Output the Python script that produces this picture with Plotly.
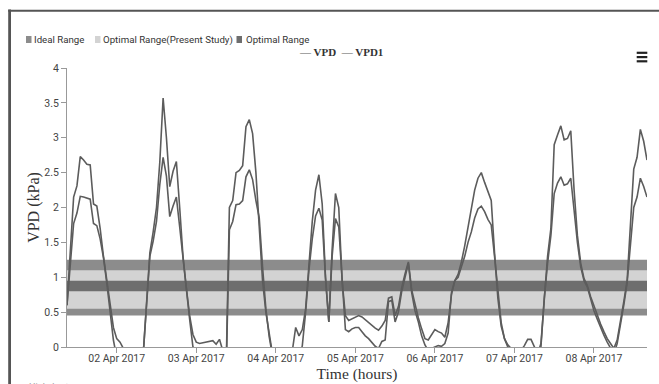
import pandas as pd
import plotly.graph_objects as go

# Hourly vapour pressure deficit readings (kPa), starting 01 Apr 2017 09:00
start_time = "2017-04-01 09:00"
vpd = [
    0.60, 1.35, 2.15, 2.31, 2.73, 2.68, 2.62, 2.61, 2.05, 2.02,
    1.70, 1.30, 0.95, 0.60, 0.28, 0.12, 0.07, -0.02, -0.40, -0.40,
    -0.40, -0.40, -0.40, -0.10, 0.60, 1.35, 1.65, 2.00, 2.65, 3.57,
    3.00, 2.30, 2.52, 2.66, 2.00, 1.30, 0.85, 0.45, 0.18, 0.07,
    0.05, 0.06, 0.06, 0.07, 0.09, 0.04, 0.11, -0.05, -0.35, 2.00,
    2.10, 2.50, 2.53, 2.60, 3.16, 3.26, 3.06, 2.50, 1.70, 0.95,
    0.50, 0.15, -0.20, -0.40, -0.40, -0.40, -0.40, -0.40, -0.05, 0.28,
    0.16, 0.25, 0.55, 1.20, 1.80, 2.25, 2.47, 2.05, 1.00, 0.36,
    1.40, 2.20, 2.00, 0.95, 0.45, 0.38, 0.40, 0.42, 0.45, 0.43,
    0.39, 0.34, 0.30, 0.27, 0.24, 0.30, 0.38, 0.70, 0.72, 0.45,
    0.58, 0.85, 1.05, 1.22, 0.82, 0.60, 0.42, 0.26, 0.12, 0.10,
    0.18, 0.25, 0.22, 0.20, 0.14, 0.35, 0.75, 0.95, 1.04, 1.22,
    1.45, 1.70, 2.00, 2.25, 2.42, 2.50, 2.36, 2.22, 2.10, 1.35,
    0.70, 0.30, 0.12, 0.00, -0.05, -0.10, -0.10, -0.05, 0.02, 0.11,
    0.11, 0.00, -0.10, 0.05, 0.75, 1.30, 1.70, 2.90, 3.04, 3.17,
    2.97, 2.99, 3.10, 2.25, 1.60, 1.20, 0.98, 0.88, 0.72, 0.58,
    0.45, 0.33, 0.22, 0.12, 0.05, -0.02, 0.10, 0.35, 0.65, 0.95,
    1.70, 2.55, 2.72, 3.12, 2.95, 2.68,
]
vpd1 = [
    0.60, 1.20, 1.77, 1.92, 2.16, 2.15, 2.13, 2.12, 1.77, 1.74,
    1.55, 1.28, 0.92, 0.55, 0.10, -0.15, -0.30, -0.40, -0.40, -0.40,
    -0.40, -0.40, -0.40, -0.10, 0.60, 1.30, 1.52, 1.80, 2.33, 2.72,
    2.45, 1.87, 2.02, 2.15, 1.72, 1.25, 0.82, 0.40, 0.00, -0.30,
    -0.40, -0.40, -0.40, -0.40, -0.40, -0.40, -0.40, -0.40, -0.40, 1.68,
    1.80, 2.04, 2.05, 2.10, 2.44, 2.54, 2.40, 2.10, 1.85, 1.15,
    0.55, 0.15, -0.20, -0.40, -0.40, -0.40, -0.40, -0.40, -0.30, -0.30,
    -0.20, 0.02, 0.50, 1.10, 1.55, 1.88, 1.99, 1.82, 0.98, 0.36,
    1.30, 1.84, 1.72, 0.95, 0.25, 0.22, 0.26, 0.28, 0.28, 0.22,
    0.16, 0.12, 0.06, 0.01, -0.02, 0.08, 0.10, 0.65, 0.67, 0.36,
    0.50, 0.80, 1.00, 1.20, 0.78, 0.52, 0.36, 0.16, 0.03, -0.05,
    -0.02, 0.00, 0.02, 0.01, 0.05, 0.20, 0.78, 0.95, 1.00, 1.15,
    1.30, 1.50, 1.65, 1.85, 1.98, 2.02, 1.94, 1.83, 1.75, 1.30,
    0.80, 0.35, 0.12, 0.03, -0.02, -0.10, -0.10, -0.10, -0.05, -0.10,
    -0.10, -0.10, -0.10, 0.00, 0.70, 1.20, 1.60, 2.20, 2.35, 2.44,
    2.32, 2.34, 2.42, 1.96, 1.50, 1.15, 0.95, 0.86, 0.68, 0.52,
    0.40, 0.28, 0.17, 0.07, -0.02, -0.10, 0.05, 0.30, 0.60, 0.92,
    1.45, 2.00, 2.15, 2.42, 2.30, 2.15,
]

# Reference ranges (kPa): lower, upper
ideal_range = [0.45, 1.25]
optimal_range_present_study = [0.55, 1.10]
optimal_range = [0.80, 0.95]

band_names = ["Ideal Range", "Optimal Range(Present Study)", "Optimal Range"]
band_limits = [ideal_range, optimal_range_present_study, optimal_range]
band_colors = ["#8c8c8c", "#d3d3d3", "#6e6e6e"]

line_color = "#5c5c5c"

times = pd.date_range(start_time, periods=len(vpd), freq="h")

# page geometry (pixels)
W, H = 659, 384
ML, MR, MT, MB = 67, 12, 68, 37
PW, PH = W - ML - MR, H - MT - MB


def px_x(px):
    return (px - ML) / PW


def px_y(py):
    return (H - MB - py) / PH


fig = go.Figure()

# horizontal range bands across the whole period
for name, (lo, hi), col in zip(band_names, band_limits, band_colors):
    fig.add_trace(go.Scatter(
        x=[times[0], times[-1], times[-1], times[0], times[0]],
        y=[lo, lo, hi, hi, lo],
        fill="toself", fillcolor=col, mode="none",
        name=name, hoverinfo="skip", showlegend=False,
    ))

for name, series in (("VPD", vpd), ("VPD1", vpd1)):
    fig.add_trace(go.Scatter(
        x=times, y=series, mode="lines", name=name,
        line=dict(color=line_color, width=1.6),
        showlegend=False,
    ))

shapes = []
annotations = []

# outer frame (left and top edges)
shapes.append(dict(type="line", xref="paper", yref="paper",
                   x0=px_x(9.6), x1=px_x(9.6), y0=px_y(9.5), y1=px_y(400),
                   line=dict(color="#555555", width=2.8)))
shapes.append(dict(type="line", xref="paper", yref="paper",
                   x0=px_x(8.2), x1=px_x(670), y0=px_y(10.8), y1=px_y(10.8),
                   line=dict(color="#555555", width=2)))

# range legend: swatches and labels
band_legend_x = [(26, 32), (95, 101), (236.5, 244)]
for (sx, tx), name, col in zip(band_legend_x, band_names, band_colors):
    shapes.append(dict(type="rect", xref="paper", yref="paper",
                       x0=px_x(sx), x1=px_x(sx + 5.5), y0=px_y(43), y1=px_y(36),
                       fillcolor=col, line=dict(width=0)))
    annotations.append(dict(xref="paper", yref="paper", x=px_x(tx), y=px_y(39.5),
                            xanchor="left", yanchor="middle", showarrow=False,
                            text=name,
                            font=dict(family="Roboto", size=9.7, color="#333333")))

# series legend
dash = f"<span style='color:{line_color}'>—</span>"
annotations.append(dict(xref="paper", yref="paper", x=px_x(297), y=px_y(51.5),
                        xanchor="left", yanchor="middle", showarrow=False,
                        text=f"{dash} VPD  {dash} VPD1",
                        font=dict(family="Liberation Serif", size=11, color="#333333",
                                  weight="bold")))

# export menu icon
for yy in (52.8, 57.1, 61.3):
    shapes.append(dict(type="line", xref="paper", yref="paper",
                       x0=px_x(636.7), x1=px_x(647.3), y0=px_y(yy), y1=px_y(yy),
                       line=dict(color="#222222", width=2.2)))

# credits line along the bottom edge
annotations.append(dict(xref="paper", yref="paper", x=px_x(27), y=px_y(379.5),
                        xanchor="left", yanchor="top", showarrow=False,
                        text="Highcharts.com",
                        font=dict(family="Roboto", size=9, color="#999999")))

fig.update_layout(
    width=W, height=H,
    margin=dict(l=ML, r=MR, t=MT, b=MB, autoexpand=False),
    paper_bgcolor="white", plot_bgcolor="white",
    showlegend=False,
    shapes=shapes, annotations=annotations,
    xaxis=dict(
        type="date", range=[times[0], times[-1]], automargin=False,
        tick0="2017-04-02", dtick=86400000, tickformat="%d %b %Y",
        ticks="outside", ticklen=5, tickcolor="#999999",
        ticklabelstandoff=-4,
        showline=True, linecolor="#999999", linewidth=1,
        showgrid=False, zeroline=False,
        tickfont=dict(family="Roboto", size=10.5, color="#444444"),
        title=dict(text="Time (hours)", standoff=2,
                   font=dict(family="Liberation Serif", size=15.5, color="#333333")),
    ),
    yaxis=dict(
        range=[0, 4], dtick=0.5, automargin=False,
        ticks="outside", ticklen=5, tickcolor="#999999",
        showline=True, linecolor="#999999", linewidth=1,
        showgrid=False, zeroline=False,
        tickfont=dict(family="Roboto", size=10.5, color="#444444"),
        title=dict(text="VPD (kPa)", standoff=0,
                   font=dict(family="Liberation Serif", size=16, color="#333333")),
    ),
)

fig.write_html("out.html", config={"displayModeBar": False})
